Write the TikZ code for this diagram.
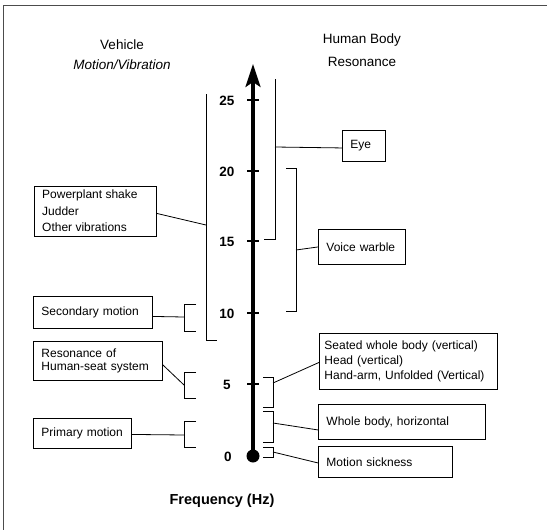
\documentclass[tikz,border=0pt]{standalone}
\usepackage{fontspec}
\setmainfont{Liberation Sans}
\usetikzlibrary{arrows.meta}
\begin{document}
\begin{tikzpicture}[x=1pt,y=-1pt,
 box/.style={draw, line width=0.9pt, inner xsep=8pt, inner ysep=0pt, align=left, anchor=north west, font=\fontsize{12}{15}\selectfont},
 brk/.style={line width=0.9pt},
 con/.style={line width=0.8pt},
 tickmark/.style={line width=2.6pt},
 ticklab/.style={font=\fontsize{13.5}{16}\selectfont\bfseries},
 ttl/.style={font=\fontsize{13.5}{16}\selectfont}]
\useasboundingbox (0,0) rectangle (547,530);
\draw[line width=0.8pt, black!70] (3,530) -- (3,5) -- (547,5);
% titles
\node[ttl] (t1) at (122,45) {Vehicle};
\node[ttl] (t2) at (122,65) {\itshape Motion/Vibration};
\node[ttl] (t3) at (362,40) {Human Body};
\node[ttl] (t4) at (362,62) {Resonance};
% axis
\node[circle, fill, inner sep=0pt, minimum size=13pt] (dot) at (253,456) {};
\coordinate (tip) at (253,64);
\draw[line width=3.2pt, -{Stealth[length=23pt,width=15pt,inset=5pt]}] (dot.center) -- (tip);
\foreach \v/\y in {25/100,20/171,15/241,10/313,5/384}{
  \draw[tickmark] (247,\y) -- (259,\y);
  \node[ticklab] (l\v) at (227,\y+1) {\v};
}
\node[ticklab] (l0) at (228,457) {0};
\node[font=\fontsize{14.5}{17}\selectfont\bfseries] (freq) at (222,501) {Frequency (Hz)};
% left boxes
\node[box, text width=106pt, minimum height=50pt] (pp) at (34,186) {};
\begin{scope}
\clip (pp.south west) rectangle (pp.north east);
\node[anchor=north west, align=left, inner sep=0pt, font=\fontsize{12}{16.5}\selectfont] (pptext) at (42,190) {Powerplant shake\\Judder\\Other vibrations};
\end{scope}
\node[box, text width=103pt, minimum height=32pt] (sec) at (33,296) {Secondary motion};
\node[box, text width=113pt, minimum height=39pt, font=\fontsize{12}{13.5}\selectfont] (res) at (33,341) {Resonance of\\Human-seat system};
\node[box, text width=82pt, minimum height=30pt] (pri) at (33,418) {Primary motion};
% left brackets
\draw[brk] (206,94) -- (206,340) -- (217,340);
\coordinate (bigM) at (206,225);
\draw[brk] (196,304) -- (184,304) -- (184,331) -- (196,331);
\coordinate (secM) at (184,317);
\draw[brk] (196,372) -- (184,372) -- (184,398) -- (196,398);
\coordinate (resM) at (184,385);
\draw[brk] (196,421) -- (184,421) -- (184,447) -- (196,447);
\coordinate (priM) at (184,435);
\draw[con] ([yshift=-2pt]pp.east) -- (bigM);
\draw[con] ([yshift=-4pt]sec.east) -- (secM);
\draw[con] ([yshift=-4pt]res.east) -- (resM);
\draw[con] ([yshift=-1pt]pri.east) -- (priM);
% right boxes
\node[box, text width=27pt, minimum height=31pt] (eye) at (342,130) {Eye};
\node[box, text width=71pt, minimum height=35pt] (voice) at (318,229) {Voice warble};
\node[box, text width=168pt, inner xsep=5pt, minimum height=56pt, font=\fontsize{12}{15}\selectfont] (seat) at (319,333) {Seated whole body (vertical)\\Head (vertical)\\Hand-arm, Unfolded (Vertical)};
\node[box, text width=151pt, minimum height=35pt] (whole) at (318,404) {Whole body, horizontal};
\node[box, text width=118pt, minimum height=31pt] (ms) at (318,446) {Motion sickness};
% right brackets
\draw[brk] (275,79) -- (275,239) -- (264,239);
\coordinate (eyeM) at (275,147);
\draw[brk] (286,168) -- (296,168) -- (296,311) -- (286,311);
\coordinate (voiceM) at (296,250);
\draw[brk] (263,377) -- (273,377) -- (273,407) -- (263,407);
\coordinate (seatM) at (273,383);
\draw[brk] (263,411) -- (273,411) -- (273,442) -- (263,442);
\coordinate (wholeM) at (273,423);
\draw[brk] (263,447) -- (273,447) -- (273,457) -- (263,457);
\coordinate (msM) at (273,452);
\draw[con] (eyeM) -- ([yshift=-2pt]eye.west);
\draw[con] (voiceM) -- (voice.west);
\draw[con] (seatM) -- ([yshift=-1pt]seat.west);
\draw[con] (wholeM) -- ([yshift=-8pt]whole.west);
\draw[con] (msM) -- ([yshift=-1pt]ms.west);
\end{tikzpicture}
\end{document}
